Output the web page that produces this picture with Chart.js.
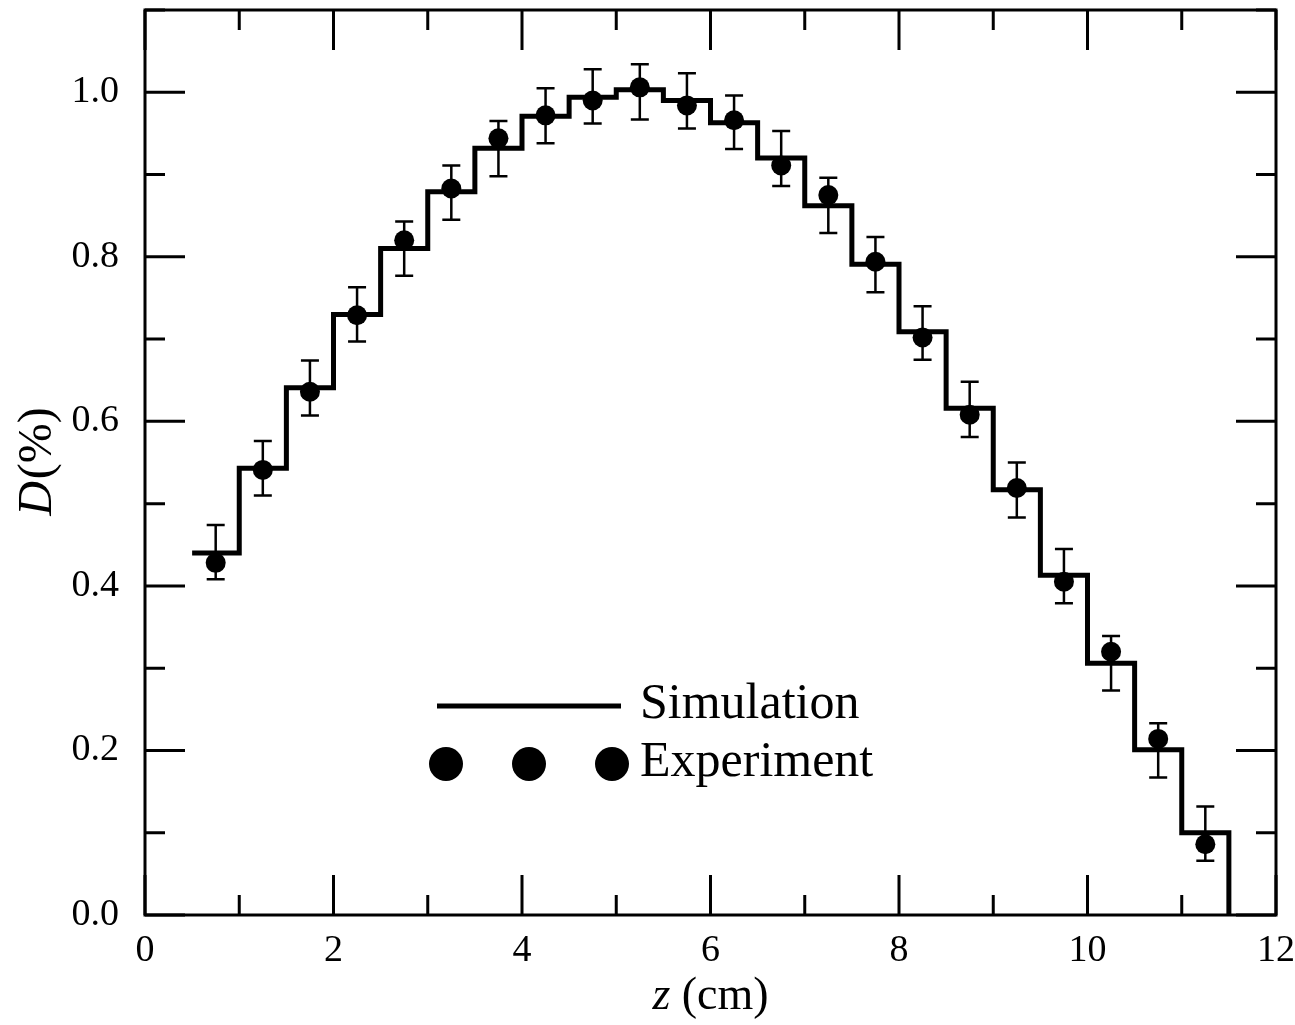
<!DOCTYPE html>
<html>
<head>
<meta charset="utf-8">
<script src="https://cdn.jsdelivr.net/npm/chart.js@4.4.0/dist/chart.umd.min.js"></script>
<style>
  html, body { margin: 0; padding: 0; background: #fff; }
  canvas { display: block; }
</style>
</head>
<body>
<canvas id="dose" width="1295" height="1025"></canvas>
<script>
// simulated depth-dose histogram: left edge of each 0.5 cm bin and its value
const simZ = [0.5, 1.0, 1.5, 2.0, 2.5, 3.0, 3.5, 4.0, 4.5, 5.0, 5.5,
              6.0, 6.5, 7.0, 7.5, 8.0, 8.5, 9.0, 9.5, 10.0, 10.5, 11.0];
const simD = [0.440, 0.543, 0.641, 0.730, 0.810, 0.879, 0.932, 0.971, 0.994, 1.003, 0.990,
              0.963, 0.920, 0.862, 0.791, 0.709, 0.616, 0.517, 0.413, 0.306, 0.201, 0.100];
const simEnd = 11.5;

// measured points with error bars
const expZ = [0.75, 1.25, 1.75, 2.25, 2.75, 3.25, 3.75, 4.25, 4.75, 5.25, 5.75,
              6.25, 6.75, 7.25, 7.75, 8.25, 8.75, 9.25, 9.75, 10.25, 10.75, 11.25];
const expD = [0.428, 0.541, 0.636, 0.729, 0.820, 0.883, 0.944, 0.972, 0.990, 1.006, 0.984,
              0.966, 0.911, 0.875, 0.794, 0.702, 0.608, 0.519, 0.405, 0.320, 0.214, 0.086];
const expHi = [0.474, 0.576, 0.674, 0.763, 0.843, 0.911, 0.965, 1.005, 1.028, 1.034, 1.023,
               0.996, 0.953, 0.896, 0.824, 0.740, 0.648, 0.550, 0.445, 0.339, 0.233, 0.132];
const expLo = [0.408, 0.510, 0.607, 0.697, 0.777, 0.845, 0.898, 0.938, 0.962, 0.967, 0.956,
               0.931, 0.886, 0.829, 0.757, 0.675, 0.581, 0.483, 0.379, 0.273, 0.167, 0.066];

const xTickStep = 2, yTickStep = 0.2;
const serif = "'Liberation Serif', 'DejaVu Serif', serif";

const simPts = simZ.map((z, i) => ({ x: z, y: simD[i] }));
simPts.push({ x: simEnd, y: 0 });
const expPts = expZ.map((z, i) => ({ x: z, y: expD[i] }));

// vertical error bars with caps
const errorBars = {
  id: 'errorBars',
  afterDatasetsDraw(chart) {
    const { ctx, scales: { x, y } } = chart;
    ctx.save();
    ctx.strokeStyle = '#000';
    ctx.lineWidth = 2.5;
    expZ.forEach((z, i) => {
      const px = x.getPixelForValue(z);
      const top = y.getPixelForValue(expHi[i]);
      const bot = y.getPixelForValue(expLo[i]);
      ctx.beginPath();
      ctx.moveTo(px, top); ctx.lineTo(px, bot);
      ctx.moveTo(px - 9, top); ctx.lineTo(px + 9, top);
      ctx.moveTo(px - 9, bot); ctx.lineTo(px + 9, bot);
      ctx.stroke();
    });
    ctx.restore();
  }
};

// box frame, inward ticks on all sides, axis titles and legend
const frame = {
  id: 'frame',
  afterDraw(chart) {
    const { ctx, chartArea: a, scales: { x, y } } = chart;
    ctx.save();
    ctx.strokeStyle = '#000';
    ctx.lineWidth = 3;
    ctx.strokeRect(a.left, a.top, a.right - a.left, a.bottom - a.top);

    ctx.beginPath();
    for (let v = 0; v <= 12 + 1e-9; v += xTickStep / 2) {
      const px = x.getPixelForValue(v);
      const len = Math.abs(v / xTickStep - Math.round(v / xTickStep)) < 1e-6 ? 40 : 20;
      ctx.moveTo(px, a.bottom); ctx.lineTo(px, a.bottom - len);
      ctx.moveTo(px, a.top); ctx.lineTo(px, a.top + len);
    }
    for (let v = 0; v <= 1.1 + 1e-9; v += yTickStep / 2) {
      const py = y.getPixelForValue(v);
      const len = Math.abs(v / yTickStep - Math.round(v / yTickStep)) < 1e-6 ? 40 : 20;
      ctx.moveTo(a.left, py); ctx.lineTo(a.left + len, py);
      ctx.moveTo(a.right, py); ctx.lineTo(a.right - len, py);
    }
    ctx.stroke();

    ctx.fillStyle = '#000';
    ctx.textBaseline = 'alphabetic';

    // x title: z (cm)
    const cx = (a.left + a.right) / 2;
    ctx.font = 'italic 46px ' + serif;
    const zW = ctx.measureText('z').width;
    ctx.font = '46px ' + serif;
    const restW = ctx.measureText(' (cm)').width;
    let sx = cx - (zW + restW) / 2;
    ctx.font = 'italic 46px ' + serif;
    ctx.fillText('z', sx, 1009);
    ctx.font = '46px ' + serif;
    ctx.fillText(' (cm)', sx + zW, 1009);

    // y title: D(%)
    ctx.save();
    ctx.translate(51, (a.top + a.bottom) / 2);
    ctx.rotate(-Math.PI / 2);
    ctx.font = 'italic 48px ' + serif;
    const dW = ctx.measureText('D').width;
    ctx.font = '48px ' + serif;
    const pW = ctx.measureText('(%)').width;
    sx = -(dW + pW) / 2;
    ctx.font = 'italic 48px ' + serif;
    ctx.fillText('D', sx, 0);
    ctx.font = '48px ' + serif;
    ctx.fillText('(%)', sx + dW + 2, 0);
    ctx.restore();

    // legend
    ctx.lineWidth = 5;
    ctx.beginPath();
    ctx.moveTo(437, 706); ctx.lineTo(621, 706);
    ctx.stroke();
    [446, 529, 612].forEach(dx => {
      ctx.beginPath();
      ctx.arc(dx, 764, 17, 0, Math.PI * 2);
      ctx.fill();
    });
    ctx.font = '50px ' + serif;
    ctx.fillText('Simulation', 640, 718);
    ctx.fillText('Experiment', 640, 776);
    ctx.restore();
  }
};

new Chart(document.getElementById('dose'), {
  type: 'scatter',
  data: {
    datasets: [
      {
        label: 'Experiment',
        data: expPts,
        pointRadius: 10,
        pointBackgroundColor: '#000',
        pointBorderWidth: 0,
        order: 0
      },
      {
        type: 'line',
        label: 'Simulation',
        data: simPts,
        stepped: 'before',
        showLine: true,
        borderColor: '#000',
        borderWidth: 5,
        pointRadius: 0,
        fill: false,
        order: 1
      }
    ]
  },
  options: {
    responsive: false,
    animation: false,
    layout: { padding: { top: 9, right: 19, left: 0, bottom: 0 } },
    plugins: { legend: { display: false }, tooltip: { enabled: false } },
    scales: {
      x: {
        type: 'linear',
        min: 0, max: 12,
        grid: { display: false },
        border: { display: false },
        ticks: {
          stepSize: xTickStep,
          color: '#000',
          padding: 5,
          font: { family: serif, size: 38 },
          callback: v => String(v)
        },
        afterFit: s => {
          s.height = 110;
          s.paddingLeft = 0; s.paddingRight = 0;
        }
      },
      y: {
        min: 0, max: 1.1,
        grid: { display: false },
        border: { display: false },
        ticks: {
          stepSize: yTickStep,
          includeBounds: false,
          color: '#000',
          padding: 18,
          font: { family: serif, size: 38 },
          callback: v => v.toFixed(1)
        },
        afterFit: s => {
          s.width = 145;
          s.paddingTop = 0; s.paddingBottom = 0;
        }
      }
    }
  },
  plugins: [errorBars, frame]
});
</script>
</body>
</html>
